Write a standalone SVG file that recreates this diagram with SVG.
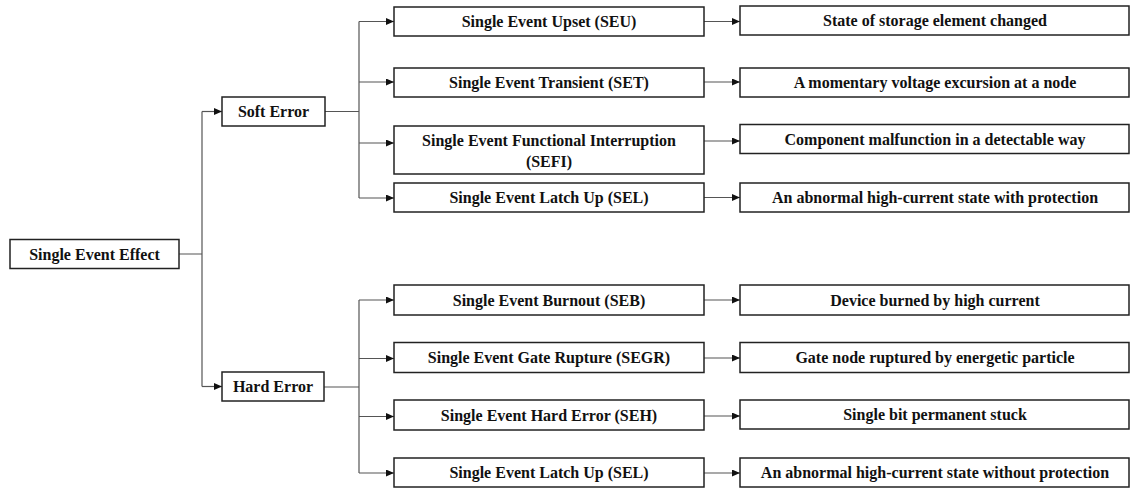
<svg xmlns="http://www.w3.org/2000/svg" width="1130" height="489" viewBox="0 0 1130 489">
<style>
.box{fill:#fff;stroke:#222;stroke-width:1.5}
.t{font-family:"Liberation Serif","Times New Roman",serif;font-weight:bold;font-size:16px;fill:#111;text-anchor:middle}
.c{fill:none;stroke:#555;stroke-width:1.2}
</style>
<defs>
<marker id="ah" markerUnits="userSpaceOnUse" markerWidth="9" markerHeight="8" refX="8" refY="3.5" orient="auto">
<path d="M0,0 L8,3.5 L0,7 z" fill="#111"/>
</marker>
</defs>
<rect width="1130" height="489" fill="#fff"/>
<g id="connectors">
<path class="c" d="M179,254 H202 M202,111.5 V386.5"/>
<path class="c" d="M202,111.5 H222" marker-end="url(#ah)"/>
<path class="c" d="M202,386.5 H222" marker-end="url(#ah)"/>
<path class="c" d="M325,111.5 H359 M359,21.5 V198"/>
<path class="c" d="M359,21.5 H394" marker-end="url(#ah)"/>
<path class="c" d="M359,82 H394" marker-end="url(#ah)"/>
<path class="c" d="M359,143 H394" marker-end="url(#ah)"/>
<path class="c" d="M359,198 H394" marker-end="url(#ah)"/>
<path class="c" d="M324,387 H359 M359,300 V473"/>
<path class="c" d="M359,300 H394" marker-end="url(#ah)"/>
<path class="c" d="M359,358.5 H394" marker-end="url(#ah)"/>
<path class="c" d="M359,416.5 H394" marker-end="url(#ah)"/>
<path class="c" d="M359,473 H394" marker-end="url(#ah)"/>
<path class="c" d="M704,21.5 H740" marker-end="url(#ah)"/>
<path class="c" d="M704,82 H740" marker-end="url(#ah)"/>
<path class="c" d="M704,141 H740" marker-end="url(#ah)"/>
<path class="c" d="M704,197.5 H740" marker-end="url(#ah)"/>
<path class="c" d="M704,300 H740" marker-end="url(#ah)"/>
<path class="c" d="M704,358 H740" marker-end="url(#ah)"/>
<path class="c" d="M704,416 H740" marker-end="url(#ah)"/>
<path class="c" d="M704,473 H740" marker-end="url(#ah)"/>
</g>
<g id="see"><rect class="box" x="10" y="239.5" width="169" height="29"/><text class="t" x="94.5" y="259.6">Single Event Effect</text></g>
<g id="soft"><rect class="box" x="222" y="97" width="103" height="29"/><text class="t" x="273.5" y="117.1">Soft Error</text></g>
<g id="hard"><rect class="box" x="222" y="372" width="102" height="29"/><text class="t" x="273" y="392.1">Hard Error</text></g>
<g id="seu"><rect class="box" x="394" y="7" width="310" height="29"/><text class="t" x="549" y="27.1">Single Event Upset (SEU)</text></g>
<g id="set"><rect class="box" x="394" y="68" width="310" height="29"/><text class="t" x="549" y="88.1">Single Event Transient (SET)</text></g>
<g id="sefi"><rect class="box" x="394" y="126" width="310" height="48"/><text class="t" x="549" y="146">Single Event Functional Interruption</text><text class="t" x="549" y="167">(SEFI)</text></g>
<g id="sel-soft"><rect class="box" x="394" y="183" width="310" height="29"/><text class="t" x="549" y="203.1">Single Event Latch Up (SEL)</text></g>
<g id="seb"><rect class="box" x="394" y="285" width="310" height="30"/><text class="t" x="549" y="305.6">Single Event Burnout (SEB)</text></g>
<g id="segr"><rect class="box" x="394" y="342.5" width="310" height="30"/><text class="t" x="549" y="363.1">Single Event Gate Rupture (SEGR)</text></g>
<g id="seh"><rect class="box" x="394" y="400" width="310" height="30"/><text class="t" x="549" y="420.6">Single Event Hard Error (SEH)</text></g>
<g id="sel-hard"><rect class="box" x="394" y="458" width="310" height="29"/><text class="t" x="549" y="478.1">Single Event Latch Up (SEL)</text></g>
<g id="d-seu"><rect class="box" x="740" y="6" width="389" height="29"/><text class="t" x="935" y="26.1">State of storage element changed</text></g>
<g id="d-set"><rect class="box" x="740" y="68" width="389" height="29"/><text class="t" x="935" y="88.1">A momentary voltage excursion at a node</text></g>
<g id="d-sefi"><rect class="box" x="740" y="124.5" width="389" height="29"/><text class="t" x="935" y="144.6">Component malfunction in a detectable way</text></g>
<g id="d-sel-soft"><rect class="box" x="740" y="183" width="389" height="29"/><text class="t" x="935" y="203.1">An abnormal high-current state with protection</text></g>
<g id="d-seb"><rect class="box" x="740" y="285" width="389" height="30"/><text class="t" x="935" y="305.6">Device burned by high current</text></g>
<g id="d-segr"><rect class="box" x="740" y="342.5" width="389" height="30"/><text class="t" x="935" y="363.1">Gate node ruptured by energetic particle</text></g>
<g id="d-seh"><rect class="box" x="740" y="400" width="389" height="29"/><text class="t" x="935" y="420.1">Single bit permanent stuck</text></g>
<g id="d-sel-hard"><rect class="box" x="740" y="458" width="389" height="29"/><text class="t" x="935" y="478.1">An abnormal high-current state without protection</text></g>
</svg>
